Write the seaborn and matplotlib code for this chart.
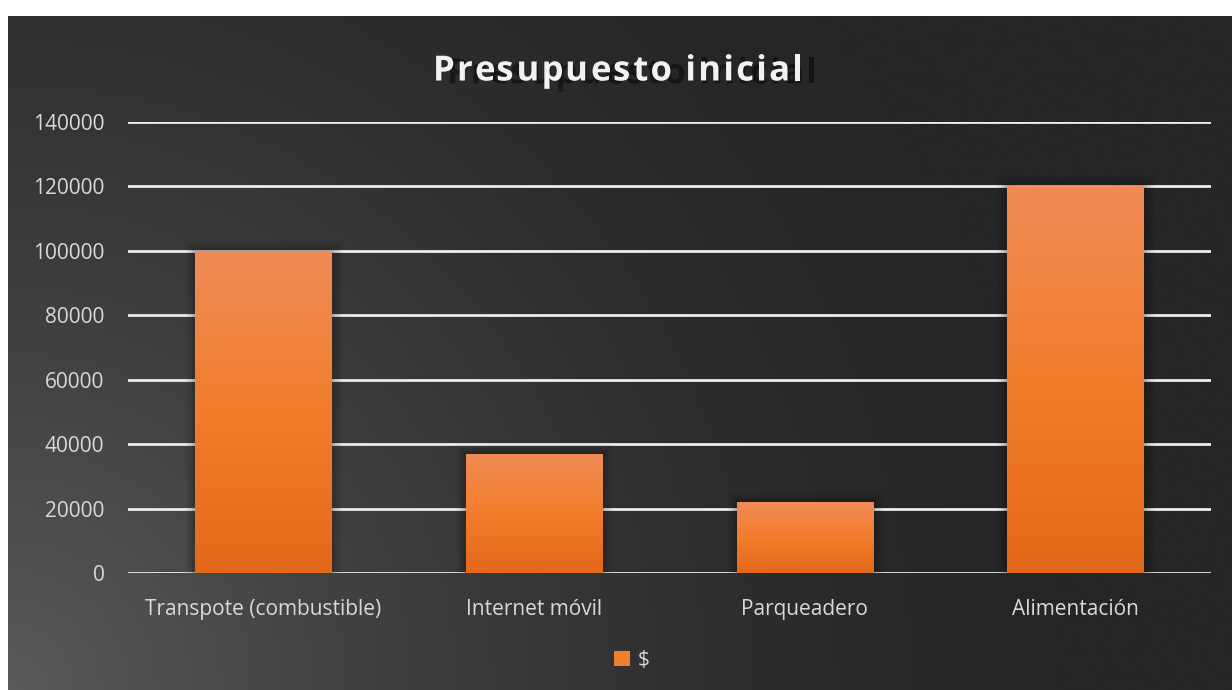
import numpy as np
import pandas as pd
import matplotlib
matplotlib.use("Agg")
import matplotlib.pyplot as plt
import matplotlib.patheffects as pe
from matplotlib.patches import Patch
from matplotlib.colors import LinearSegmentedColormap
import seaborn as sns

categories = ["Transpote (combustible)", "Internet móvil", "Parqueadero", "Alimentación"]
values = [100000, 37000, 22000, 120000]
series_name = "$"
title = "Presupuesto inicial"
yticks = [0, 20000, 40000, 60000, 80000, 100000, 120000, 140000]

df = pd.DataFrame({"categoria": categories, "valor": values})

sns.set_theme(style="dark")
plt.rcParams["font.family"] = ["Open Sans", "DejaVu Sans"]

W, H = 1232, 690
fig = plt.figure(figsize=(W / 100, H / 100), dpi=100)
fig.patch.set_facecolor("white")

# background with gradient (lighter towards bottom-left)
bg = fig.add_axes([8 / W, 0, (W - 8) / W, (H - 16) / H])
bg.set_axis_off()
nx, ny = 400, 220
xx, yy = np.meshgrid(np.linspace(0, 1.82, nx), np.linspace(0, 1, ny))
d = np.sqrt(xx ** 2 + yy ** 2)
t = np.clip(1 - d / 1.55, 0, 1) ** 1.6
base, light = 0x26 / 255, 0x5a / 255
g = base + (light - base) * t
img = np.dstack([g, g, g])
bg.imshow(img, origin="lower", aspect="auto", extent=[0, 1, 0, 1], interpolation="bicubic")
bg.set_xlim(0, 1)
bg.set_ylim(0, 1)

ax = fig.add_axes([128 / W, 1 - 573 / H, (1211 - 128) / W, (573 - 122) / H])
ax.patch.set_alpha(0)

sns.barplot(data=df, x="categoria", y="valor", color="#F07F2E", width=0.505,
            ax=ax, zorder=3, saturation=1, linewidth=0, edgecolor="none")

ax.set_ylim(0, 140000)
ax.set_xlim(-0.5, 3.5)
ax.set_yticks(yticks)
ax.set_yticklabels([str(v) for v in yticks])
ax.set_xlabel("")
ax.set_ylabel("")
for s in ax.spines.values():
    s.set_visible(False)
ax.yaxis.grid(True, color="#ececec", lw=2.0, zorder=1)
ax.xaxis.grid(False)
ax.tick_params(axis="both", length=0, colors="#d9d9d9", labelsize=15)
ax.tick_params(axis="y", pad=17)
ax.tick_params(axis="x", pad=19)
for lbl in ax.get_xticklabels() + ax.get_yticklabels():
    lbl.set_color("#d9d9d9")

cmap = LinearSegmentedColormap.from_list(
    "bar", [(0.0, "#E3691A"), (0.5, "#F27D2C"), (1.0, "#F08C57")])
grad = np.linspace(0, 1, 256).reshape(-1, 1)
for p in ax.patches:
    p.set_path_effects([pe.Stroke(linewidth=14, foreground="black", alpha=0.06),
                        pe.Stroke(linewidth=9, foreground="black", alpha=0.08),
                        pe.Stroke(linewidth=4, foreground="black", alpha=0.12),
                        pe.Normal()])
    x0, y0 = p.get_x(), p.get_y()
    w, h = p.get_width(), p.get_height()
    im = ax.imshow(grad, cmap=cmap, origin="lower", aspect="auto",
                   extent=[x0, x0 + w, y0, y0 + h], zorder=4)
    im.set_clip_path(p)
ax.set_xlim(-0.5, 3.5)
ax.set_ylim(0, 140000)

# letter-spaced title
renderer = fig.canvas.get_renderer()
tfs = 25
target_w = 370
def text_w(s):
    tt = fig.text(0, 0, s, fontsize=tfs, fontweight="bold")
    wpx = tt.get_window_extent(renderer).width
    tt.remove()
    return wpx
wx = text_w("x")
prefix = [0.0] + [text_w(title[:i] + "x") - wx for i in range(1, len(title))]
natural = text_w(title)
gap = (target_w - natural) / (len(title) - 1)
x_start = 618 - target_w / 2
shadow = [pe.SimplePatchShadow(offset=(10, -2), shadow_rgbFace="black", alpha=0.45), pe.Normal()]
for i, ch in enumerate(title):
    if ch == " ":
        continue
    fig.text((x_start + prefix[i] + i * gap) / W, 1 - 67 / H, ch, ha="left", va="center_baseline",
             color="#f2f2f2", fontsize=tfs, fontweight="bold", path_effects=shadow)

handle = Patch(facecolor="#F07F2E", edgecolor="none")
leg = fig.legend([handle], [series_name], loc="center", bbox_to_anchor=(632 / W, 1 - 660 / H),
                 frameon=False, handlelength=0.75, handleheight=0.75, handletextpad=0.4,
                 fontsize=15, labelcolor="#d9d9d9")

fig.savefig("out.png", dpi=100, facecolor=fig.get_facecolor())
